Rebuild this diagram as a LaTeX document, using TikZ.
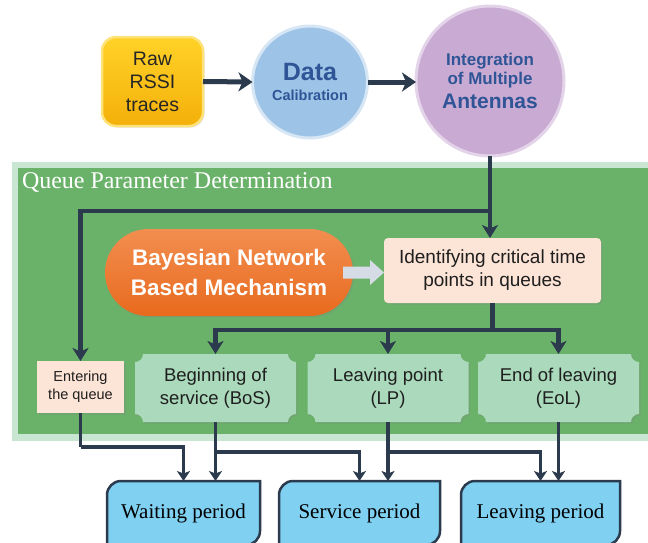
\documentclass[tikz,border=0pt]{standalone}
\usepackage{fontspec}
\setsansfont{Liberation Sans}
\setmainfont{Liberation Serif}
\usetikzlibrary{arrows.meta,shapes.geometric,shapes.misc,shadows,calc}
\definecolor{navy}{RGB}{44,58,78}
\definecolor{dkgreen}{RGB}{106,178,106}
\definecolor{ltgreen}{RGB}{200,230,210}
\definecolor{plaquecol}{RGB}{170,217,187}
\definecolor{peach}{RGB}{252,228,214}
\definecolor{pblue}{RGB}{128,208,242}
\definecolor{dblue}{RGB}{157,195,230}
\definecolor{dbluebd}{RGB}{215,230,244}
\definecolor{lav}{RGB}{201,170,210}
\definecolor{lavbd}{RGB}{228,212,234}
\definecolor{txtblue}{RGB}{47,85,151}
\definecolor{ytop}{RGB}{255,210,40}
\definecolor{ybot}{RGB}{244,176,10}
\definecolor{ybd}{RGB}{255,226,120}
\definecolor{otop}{RGB}{242,142,80}
\definecolor{obot}{RGB}{232,106,30}
\definecolor{agray}{RGB}{214,220,229}
\pgfdeclarelayer{bgzero}
\pgfdeclarelayer{bgone}
\pgfsetlayers{bgzero,bgone,main}
\newcommand\myplaquefill[1]{%
  \begin{pgfonlayer}{bgone}
  \fill[plaquecol, drop shadow={opacity=0.25,shadow xshift=1.5pt,shadow yshift=-1.5pt}]
    ([yshift=-8pt]#1.north west) arc[start angle=-90,end angle=0,radius=8pt]
    -- ([xshift=-8pt]#1.north east) arc[start angle=180,end angle=270,radius=8pt]
    -- ([yshift=8pt]#1.south east) arc[start angle=90,end angle=180,radius=8pt]
    -- ([xshift=8pt]#1.south west) arc[start angle=0,end angle=90,radius=8pt]
    -- cycle;
  \end{pgfonlayer}}
\newcommand\myperiodfill[1]{%
  \begin{pgfonlayer}{bgone}
  \filldraw[fill=pblue, draw=navy, line width=2.5pt]
    (#1.south west) -- ([yshift=-14pt]#1.north west) arc[start angle=180,end angle=90,radius=14pt]
    -- (#1.north east) -- ([yshift=14pt]#1.south east) arc[start angle=0,end angle=-90,radius=14pt]
    -- cycle;
  \end{pgfonlayer}}
\begin{document}
\begin{tikzpicture}[x=1pt,y=-1pt,
  every node/.style={outer sep=0pt, inner sep=0pt},
  softshadow/.style={drop shadow={opacity=0.25,shadow xshift=1.5pt,shadow yshift=-1.5pt}},
  connT/.style={draw=navy, line width=5pt, -{Stealth[length=14pt,width=19pt,inset=4pt]}},
  conn/.style={draw=navy, line width=4.5pt, -{Stealth[length=13pt,width=16pt,inset=3.5pt]}},
  plainline/.style={draw=navy, line width=4.5pt},
  connS/.style={draw=navy, line width=3.5pt, -{Stealth[length=10pt,width=13pt,inset=2.5pt]}},
  plainS/.style={draw=navy, line width=3.5pt},
  plq/.style={minimum width=161pt, minimum height=68pt, align=center, text=black!88,
    font=\sffamily\fontsize{18.5}{23}\selectfont},
  period/.style={minimum height=64pt, align=center, text=black,
    font=\rmfamily\fontsize{21}{24}\selectfont},
  peachbox/.style={fill=peach, softshadow, align=center, text=black!88}
]
\useasboundingbox (0,0) rectangle (648,542);
\clip (0,0) rectangle (648,542);

% green region
\begin{pgfonlayer}{bgzero}
\fill[ltgreen] (12,162) rectangle (660,441);
\fill[dkgreen] (18,168) rectangle (660,434);
\end{pgfonlayer}
\node[anchor=west, text=white, font=\rmfamily\fontsize{24}{26}\selectfont] (title) at (22,182) {Queue Parameter Determination};

% top row
\node[rectangle, rounded corners=14pt, minimum width=101pt, minimum height=89pt,
  top color=ytop, bottom color=ybot, draw=ybd, line width=2.5pt, softshadow,
  align=center, font=\sffamily\fontsize{19.5}{23}\selectfont, text=black!85]
  (raw) at (152.5,81.5) {Raw\\RSSI\\traces};
\node[ellipse, minimum width=115pt, minimum height=112pt, fill=dblue, draw=dbluebd,
  line width=3pt, align=center, text=txtblue, font=\sffamily\bfseries]
  (data) at (310,82) {{\fontsize{25}{24}\selectfont Data}\\[8pt]{\fontsize{14.5}{17}\selectfont Calibration}};
\node[ellipse, minimum width=148pt, minimum height=150pt, fill=lav, draw=lavbd,
  line width=3pt, align=center, text=txtblue, font=\sffamily\bfseries]
  (integ) at (490,81) {{\fontsize{17}{21}\selectfont Integration}\\[2pt]{\fontsize{17}{21}\selectfont of Multiple}\\[5pt]{\fontsize{21}{22}\selectfont Antennas}};

\draw[connT] (raw.east) -- (data.west);
\draw[connT] (data.east) -- (data.east -| integ.west);

% middle
\node[rounded rectangle, minimum width=248pt, minimum height=87pt,
  top color=otop, bottom color=obot, softshadow, align=center, text=white,
  font=\sffamily\bfseries\fontsize{22.5}{30}\selectfont]
  (bayes) at (229,272.5) {Bayesian Network\\Based Mechanism};
\node[peachbox, rectangle, rounded corners=4pt, minimum width=217pt, minimum height=65pt,
  font=\sffamily\fontsize{19}{23}\selectfont]
  (ident) at (492.5,270.5) {Identifying critical time\\points in queues};
\coordinate (gtip) at (ident.west |- bayes.east);
\fill[agray] ([xshift=-10pt,yshift=-6pt]bayes.east) -- ([xshift=-14pt,yshift=-6pt]gtip)
  -- ([xshift=-14pt,yshift=-12.5pt]gtip) -- (gtip) -- ([xshift=-14pt,yshift=12.5pt]gtip)
  -- ([xshift=-14pt,yshift=6pt]gtip) -- ([xshift=-10pt,yshift=6pt]bayes.east) -- cycle;

\node[peachbox, rectangle, minimum width=87pt, minimum height=52pt,
  font=\sffamily\fontsize{14.5}{18}\selectfont]
  (enter) at (80.5,387) {Entering\\the queue};

\node[plq] (bos) at (215.5,388) {Beginning of\\service (BoS)};
\node[plq] (lp) at (388,388) {Leaving point\\(LP)};
\node[plq] (eol) at (558.5,388) {End of leaving\\(EoL)};
\myplaquefill{bos}
\myplaquefill{lp}
\myplaquefill{eol}

\coordinate (j1) at (490,211);
\draw[conn] (integ.south) -- (integ.south |- ident.north);
\draw[conn] (j1) -| (enter.north);

\coordinate (j2) at (492.5,330);
\draw[plainline] (ident.south) -- (j2);
\draw[conn] (j2) -| (bos.north);
\draw[conn] (j2) -| (lp.north);
\draw[conn] (j2) -| (eol.north);

% bottom
\node[period, minimum width=153pt] (wait) at (183.5,513) {Waiting period};
\node[period, minimum width=161pt] (serv) at (359.5,513) {Service period};
\node[period, minimum width=159pt] (leave) at (540.5,513) {Leaving period};
\myperiodfill{wait}
\myperiodfill{serv}
\myperiodfill{leave}

\coordinate (j3) at (80.5,447);
\draw[plainS] (enter.south) -- (j3);
\draw[connS] (j3) -| (wait.north);
\draw[connS] (bos.south) -- (bos.south |- wait.north);
\coordinate (j4) at (215.5,452);
\draw[connS] (j4) -| (serv.north);
\draw[connS] (lp.south) -- (lp.south |- serv.north);
\coordinate (j5) at (388,452);
\draw[connS] (j5) -| (leave.north);
\draw[connS] (eol.south) -- (eol.south |- leave.north);
\end{tikzpicture}
\end{document}
